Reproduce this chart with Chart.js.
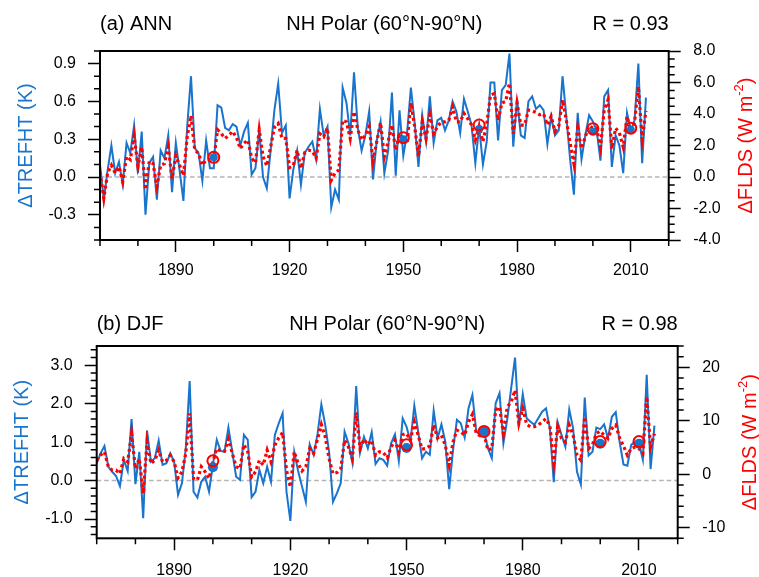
<!DOCTYPE html>
<html>
<head>
<meta charset="utf-8">
<script src="https://cdn.jsdelivr.net/npm/chart.js@4.4.1/dist/chart.umd.min.js"></script>
<style>
    html, body { margin: 0; padding: 0; background: #fff; }
    #wrap { position: relative; width: 759px; height: 577px; }
    canvas { position: absolute; left: 0; }
</style>
</head>
<body>
<div id="wrap">
    <canvas id="annChart" width="759" height="288" style="top:0px"></canvas>
    <canvas id="djfChart" width="759" height="289" style="top:288px"></canvas>
</div>
<script>
// years 1870..2014
var years = [];
for (var yr = 1870; yr <= 2014; yr++) years.push(yr);

// (a) ANN
var annTrefht = [
    0.10, -0.18, 0.05, 0.25, 0.03, 0.12, -0.06, 0.27, 0.19, 0.41,
    0.03, 0.36, -0.30, 0.11, 0.16, -0.18, 0.21, 0.15, 0.33, -0.12,
    0.27, 0.05, -0.19, 0.40, 0.80, 0.23, 0.19, -0.03, 0.29, 0.07,
    0.07, 0.57, 0.55, 0.39, 0.37, 0.42, 0.40, 0.25, 0.36, 0.43,
    0.02, 0.07, 0.37, 0.00, -0.09, 0.21, 0.53, 0.74, 0.35, 0.41,
    -0.17, 0.06, 0.21, -0.06, 0.19, 0.24, 0.28, 0.14, 0.54, 0.33,
    0.40, -0.24, -0.10, -0.18, 0.71, 0.59, 0.33, 0.83, 0.39, 0.21,
    0.33, 0.52, -0.02, 0.29, 0.44, 0.03, 0.21, 0.67, 0.01, 0.53,
    0.17, 0.35, 0.71, 0.43, 0.08, 0.49, 0.28, 0.64, 0.27, 0.45,
    0.47, 0.37, 0.45, 0.60, 0.52, 0.35, 0.62, 0.52, 0.41, 0.11,
    0.40, 0.10, 0.28, 0.75, 0.75, 0.29, 0.69, 0.73, 0.98, 0.24,
    0.62, 0.33, 0.31, 0.60, 0.64, 0.54, 0.57, 0.53, 0.26, 0.48,
    0.33, 0.37, 0.80, 0.48, 0.14, -0.14, 0.51, 0.14, 0.33, 0.49,
    0.44, 0.37, 0.13, 0.64, 0.69, 0.08, 0.33, 0.25, 0.03, 0.51,
    0.37, 0.45, 0.90, 0.11, 0.63
];
var annFlds = [
    0.3, -1.35, 0.25, 0.75, 0.25, 0.65, -0.3, 1.3, 1.1, 2.6,
    0.7, 1.9, -0.8, 1.0, 0.85, -0.6, 0.75, 0.85, 1.9, -0.1,
    1.35, 0.75, 0.1, 2.55, 3.9, 1.7, 1.5, 0.75, 1.1, 1.1,
    1.1, 3.0, 2.75, 2.45, 2.65, 2.9, 2.5, 1.8, 2.15, 2.35,
    1.2, 0.9, 3.0, 1.3, 0.7, 1.9, 3.15, 3.4, 2.45, 2.45,
    0.6, 0.75, 1.7, 0.55, 1.55, 1.7, 1.65, 1.2, 2.75, 2.55,
    3.1, -0.2, 0.25, 0.45, 3.6, 3.5, 2.45, 4.15, 3.0, 2.35,
    2.65, 3.2, 1.0, 2.25, 3.45, 1.3, 2.25, 3.3, 1.7, 2.75,
    2.35, 2.15, 4.7, 3.2, 1.3, 3.5, 2.45, 3.95, 2.75, 3.2,
    3.5, 3.5, 3.6, 4.45, 3.5, 3.5, 4.05, 3.7, 3.3, 2.35,
    3.2, 2.25, 3.35, 5.2, 5.3, 3.6, 4.7, 4.8, 5.95, 2.75,
    4.7, 3.3, 3.3, 4.25, 4.2, 4.1, 3.95, 4.0, 3.3, 3.85,
    2.9, 3.25, 4.9, 3.6, 2.15, 0.85, 3.1, 1.8, 2.55, 3.25,
    3.1, 3.1, 1.9, 4.25, 4.9, 1.8, 3.1, 2.8, 1.9, 3.85,
    2.75, 3.5, 5.75, 2.4, 4.2
];

// (b) DJF
var djfTrefht = [
    0.45, 0.71, 0.90, 0.36, 0.23, 0.12, -0.14, 0.54, 0.25, 1.60,
    -0.09, 0.75, -0.98, 1.30, 0.49, 0.58, 1.04, 0.41, 0.45, 0.71,
    0.49, -0.37, -0.07, 0.84, 2.59, -0.29, -0.44, -0.03, 0.10, -0.29,
    0.41, 1.06, 0.77, 0.75, 1.38, 0.75, 0.10, 0.02, 1.19, 1.06,
    -0.43, -0.29, 0.28, -0.07, 0.36, -0.03, 1.19, 1.49, 1.75, -0.29,
    -1.05, 0.75, 0.25, -0.15, -0.55, 0.94, 0.67, 1.20, 1.98, 1.45,
    0.75, -0.55, -0.33, -0.07, 1.27, 0.97, 0.47, 2.46, 0.73, 1.14,
    0.84, 1.26, 0.43, 0.58, 0.54, 0.39, 0.97, 1.20, 0.51, 1.62,
    1.40, 1.01, 1.95, 1.27, 0.58, 0.75, 0.67, 1.82, 1.10, 1.46,
    1.01, -0.22, 0.80, 1.58, 1.49, 1.12, 1.88, 2.23, 1.27, 1.19,
    1.27, 0.84, 0.58, 2.01, 2.27, 0.97, 1.60, 2.40, 3.20, 1.43,
    2.25, 1.62, 1.53, 1.45, 1.62, 1.79, 1.88, 1.36, -0.04, 1.52,
    1.19, 0.88, 1.85, 1.36, 0.23, -0.10, 2.16, 0.65, 0.75, 1.38,
    1.34, 1.46, 1.10, 1.66, 1.78, 1.01, 0.42, 0.39, 0.93, 1.01,
    0.97, 0.54, 2.75, 0.30, 1.43
];
var djfFlds = [
    2.6, 3.6, 4.2, 1.4, 0.75, 0.75, 0.1, 2.9, 2.3, 7.6,
    1.05, 2.9, -3.6, 6.05, 2.0, 2.6, 4.5, 2.3, 2.6, 3.55,
    2.3, -0.7, 0.45, 3.9, 11.4, -0.8, -1.1, 1.4, 0.45, -0.8,
    2.3, 4.8, 4.3, 4.3, 6.55, 3.9, 1.4, 1.05, 5.55, 4.2,
    -0.5, 0.45, 2.6, 1.7, 4.5, 2.3, 5.4, 6.8, 7.8, 0.75,
    -2.4, 4.2, 2.0, 0.6, 1.4, 4.8, 3.9, 6.55, 9.3, 7.0,
    2.9, 0.1, 0.3, 1.05, 6.35, 5.1, 2.9, 11.55, 4.8, 6.55,
    5.55, 6.35, 3.55, 4.2, 4.05, 3.05, 5.1, 6.35, 4.2, 7.4,
    7.6, 6.35, 9.8, 7.3, 4.7, 4.8, 5.3, 9.2, 6.8, 7.3,
    5.4, 1.7, 6.05, 8.25, 7.9, 7.3, 9.8, 11.2, 7.6, 7.2,
    7.5, 4.5, 4.8, 12.0, 12.6, 7.6, 12.6, 13.5, 15.7, 9.5,
    12.3, 9.3, 8.9, 8.9, 9.2, 9.8, 10.4, 9.05, 2.0, 8.9,
    6.7, 6.05, 9.2, 7.3, 3.55, 2.6, 10.7, 4.8, 5.55, 7.6,
    8.05, 7.3, 6.7, 8.55, 9.2, 6.8, 5.3, 3.55, 4.8, 5.1,
    4.8, 3.9, 14.5, 5.1, 7.6
];

// circled years
var markerYears = [1900, 1950, 1970, 2000, 2010];
var annMarkTrefht = [0.157, 0.30, 0.38, 0.36, 0.375];
var annMarkFlds = [1.25, 2.5, 3.3, 3.07, 3.1];
var djfMarkTrefht = [0.35, 0.85, 1.28, 0.96, 0.96];
var djfMarkFlds = [2.5, 5.5, 8.0, 6.1, 6.1];

// tick labels
var xLabelYears = [1890, 1920, 1950, 1980, 2010];
var annLeftLabels = [-0.3, 0.0, 0.3, 0.6, 0.9];
var annRightLabels = [-4, -2, 0, 2, 4, 6, 8];
var djfLeftLabels = [-1, 0, 1, 2, 3];
var djfRightLabels = [-10, 0, 10, 20];

var BLUE = 'rgb(24,116,205)';
var RED = '#ff0000';
var FONT = '"Liberation Sans", Arial, Helvetica, sans-serif';
var MAJOR_TICK = 12, MINOR_TICK = 6;

function pairs(xs, ys) {
    return xs.map(function (x, i) { return { x: x, y: ys[i] }; });
}

function stepTicks(min, max, step) {
    var out = [];
    var n = Math.round((max - min) / step);
    for (var i = 0; i <= n; i++) out.push(Math.round((min + i * step) * 1e6) / 1e6);
    return out;
}

function hasValue(list, v) {
    return list.some(function (l) { return Math.abs(l - v) < 1e-6; });
}

// major ticks are drawn by Chart.js, minor (unlabelled) ones here
function drawMinorTicks(ctx, scale, labels) {
    ctx.beginPath();
    scale.ticks.forEach(function (t) {
        if (hasValue(labels, t.value)) return;
        var px = scale.getPixelForValue(t.value);
        if (scale.id === 'x') {
            ctx.moveTo(px, scale.top); ctx.lineTo(px, scale.top + MINOR_TICK);
        } else if (scale.position === 'left') {
            ctx.moveTo(scale.right, px); ctx.lineTo(scale.right - MINOR_TICK, px);
        } else {
            ctx.moveTo(scale.left, px); ctx.lineTo(scale.left + MINOR_TICK, px);
        }
    });
    ctx.stroke();
}

var panelDecor = {
    id: 'panelDecor',
    beforeDatasetsDraw: function (chart, args, opts) {
        var ctx = chart.ctx, a = chart.chartArea;
        var y0 = chart.scales.yL.getPixelForValue(0);
        ctx.save();
        ctx.strokeStyle = '#b4b4b4';
        ctx.lineWidth = 1.5;
        ctx.setLineDash([4.5, 3]);
        ctx.beginPath();
        ctx.moveTo(a.left, y0);
        ctx.lineTo(a.right, y0);
        ctx.stroke();
        ctx.restore();
    },
    afterDraw: function (chart, args, opts) {
        var ctx = chart.ctx, a = chart.chartArea;
        ctx.save();
        ctx.strokeStyle = '#000';
        ctx.lineWidth = 1.5;
        drawMinorTicks(ctx, chart.scales.x, opts.xLabels);
        drawMinorTicks(ctx, chart.scales.yL, opts.leftLabels);
        drawMinorTicks(ctx, chart.scales.yR, opts.rightLabels);

        ctx.lineWidth = 2;
        ctx.strokeRect(a.left, a.top, a.right - a.left, a.bottom - a.top);

        ctx.fillStyle = '#000';
        ctx.font = '20px ' + FONT;
        ctx.textBaseline = 'alphabetic';
        ctx.textAlign = 'left';
        ctx.fillText(opts.leftTitle, a.left, opts.titleY);
        ctx.textAlign = 'center';
        ctx.fillText(opts.centerTitle, (a.left + a.right) / 2, opts.titleY);
        ctx.textAlign = 'right';
        ctx.fillText(opts.rightTitle, a.right, opts.titleY);

        var midY = (a.top + a.bottom) / 2;
        // left axis title
        ctx.save();
        ctx.translate(opts.leftLabelX, midY);
        ctx.rotate(-Math.PI / 2);
        ctx.fillStyle = BLUE;
        ctx.textAlign = 'center';
        ctx.textBaseline = 'middle';
        ctx.fillText('\u0394TREFHT (K)', 0, 0);
        ctx.restore();

        // right axis title with superscript
        ctx.save();
        ctx.translate(opts.rightLabelX, midY);
        ctx.rotate(-Math.PI / 2);
        ctx.fillStyle = RED;
        ctx.textBaseline = 'middle';
        ctx.textAlign = 'left';
        var main = '\u0394FLDS (W m', sup = '-2', close = ')';
        ctx.font = '20px ' + FONT;
        var w1 = ctx.measureText(main).width, w3 = ctx.measureText(close).width;
        ctx.font = '13px ' + FONT;
        var w2 = ctx.measureText(sup).width;
        var x = -(w1 + w2 + w3) / 2;
        ctx.font = '20px ' + FONT;
        ctx.fillText(main, x, 0);
        ctx.font = '13px ' + FONT;
        ctx.fillText(sup, x + w1, -7);
        ctx.font = '20px ' + FONT;
        ctx.fillText(close, x + w1 + w2, 0);
        ctx.restore();

        ctx.restore();
    }
};

function createPanel(canvasId, p) {
    var canvas = document.getElementById(canvasId);
    var W = canvas.width, H = canvas.height;
    var tickFont = { family: FONT, size: 16 };

    function majorGrid(labels) {
        return {
            drawOnChartArea: false,
            drawTicks: true,
            tickLength: MAJOR_TICK,
            tickWidth: 1.5,
            tickColor: function (c) {
                return c.tick && hasValue(labels, c.tick.value) ? '#000' : 'rgba(0,0,0,0)';
            }
        };
    }

    return new Chart(canvas.getContext('2d'), {
        type: 'line',
        data: {
            datasets: [
                {
                    label: 'FLDS marks',
                    data: pairs(markerYears, p.markFlds),
                    yAxisID: 'yR',
                    showLine: false,
                    pointRadius: p.ringRadius,
                    pointBorderWidth: 2,
                    pointBorderColor: RED,
                    pointBackgroundColor: 'rgba(0,0,0,0)'
                },
                {
                    label: 'TREFHT marks',
                    data: pairs(markerYears, p.markT),
                    yAxisID: 'yL',
                    showLine: false,
                    pointRadius: p.dotRadius,
                    pointBorderWidth: 0,
                    pointBorderColor: BLUE,
                    pointBackgroundColor: BLUE
                },
                {
                    label: 'FLDS',
                    data: pairs(years, p.flds),
                    yAxisID: 'yR',
                    borderColor: RED,
                    borderWidth: 3.2,
                    borderDash: [3, 3],
                    pointRadius: 0,
                    fill: false
                },
                {
                    label: 'TREFHT',
                    data: pairs(years, p.t),
                    yAxisID: 'yL',
                    borderColor: BLUE,
                    borderWidth: 2,
                    pointRadius: 0,
                    fill: false
                }
            ]
        },
        options: {
            responsive: false,
            animation: false,
            devicePixelRatio: 1,
            layout: { padding: { top: p.box.top, left: 0, right: 0, bottom: 0 } },
            plugins: {
                legend: { display: false },
                tooltip: { enabled: false },
                panelDecor: {
                    leftTitle: p.leftTitle,
                    centerTitle: 'NH Polar (60\u00B0N-90\u00B0N)',
                    rightTitle: p.rTitle,
                    titleY: p.titleY,
                    leftLabelX: p.leftLabelX,
                    rightLabelX: p.rightLabelX,
                    xLabels: xLabelYears,
                    leftLabels: p.left.labels,
                    rightLabels: p.right.labels
                }
            },
            scales: {
                x: {
                    type: 'linear',
                    min: 1870,
                    max: 2020,
                    afterBuildTicks: function (s) {
                        s.ticks = stepTicks(1870, 2020, 10).map(function (v) { return { value: v }; });
                    },
                    afterFit: function (s) { s.height = H - p.box.bottom; },
                    grid: majorGrid(xLabelYears),
                    border: { display: false },
                    ticks: {
                        autoSkip: false,
                        maxRotation: 0,
                        padding: p.xPad,
                        color: '#000',
                        font: tickFont,
                        callback: function (v) { return xLabelYears.indexOf(v) >= 0 ? String(v) : ''; }
                    }
                },
                yL: {
                    type: 'linear',
                    position: 'left',
                    min: p.left.min,
                    max: p.left.max,
                    afterBuildTicks: function (s) {
                        s.ticks = stepTicks(p.left.first, p.left.last, p.left.step).map(function (v) { return { value: v }; });
                    },
                    afterFit: function (s) { s.width = p.box.left; },
                    grid: majorGrid(p.left.labels),
                    border: { display: false },
                    ticks: {
                        autoSkip: false,
                        padding: 12,
                        color: '#000',
                        font: tickFont,
                        callback: function (v) { return hasValue(p.left.labels, v) ? v.toFixed(p.left.dec) : ''; }
                    }
                },
                yR: {
                    type: 'linear',
                    position: 'right',
                    min: p.right.min,
                    max: p.right.max,
                    afterBuildTicks: function (s) {
                        s.ticks = stepTicks(p.right.first, p.right.last, p.right.step).map(function (v) { return { value: v }; });
                    },
                    afterFit: function (s) { s.width = W - p.box.right; },
                    grid: majorGrid(p.right.labels),
                    border: { display: false },
                    ticks: {
                        autoSkip: false,
                        padding: 12.5,
                        color: '#000',
                        font: tickFont,
                        callback: function (v) { return hasValue(p.right.labels, v) ? v.toFixed(p.right.dec) : ''; }
                    }
                }
            }
        },
        plugins: [panelDecor]
    });
}

createPanel('annChart', {
    t: annTrefht, flds: annFlds,
    markT: annMarkTrefht, markFlds: annMarkFlds,
    dotRadius: 4, ringRadius: 5.5,
    box: { left: 100, top: 51, right: 668.7, bottom: 240 },
    left: { min: -0.5, max: 1.0, first: -0.5, last: 1.0, step: 0.1, labels: annLeftLabels, dec: 1 },
    right: { min: -4, max: 8, first: -4, last: 8, step: 0.5, labels: annRightLabels, dec: 1 },
    leftTitle: '(a) ANN', rTitle: 'R = 0.93', titleY: 30,
    leftLabelX: 26, rightLabelX: 746.7, xPad: 9
});

createPanel('djfChart', {
    t: djfTrefht, flds: djfFlds,
    markT: djfMarkTrefht, markFlds: djfMarkFlds,
    dotRadius: 5, ringRadius: 5.5,
    box: { left: 96.7, top: 58, right: 677.7, bottom: 250.3 },
    left: { min: -1.5, max: 3.5, first: -1.4, last: 3.4, step: 0.2, labels: djfLeftLabels, dec: 1 },
    right: { min: -12, max: 24, first: -12, last: 24, step: 2, labels: djfRightLabels, dec: 0 },
    leftTitle: '(b) DJF', rTitle: 'R = 0.98', titleY: 42,
    leftLabelX: 22, rightLabelX: 750, xPad: 11
});
</script>
</body>
</html>
